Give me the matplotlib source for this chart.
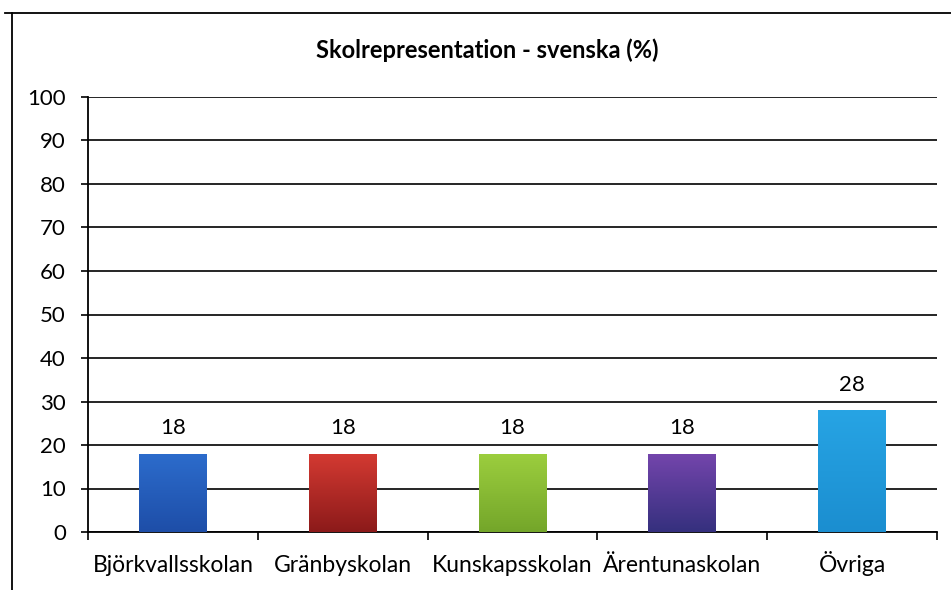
import matplotlib
matplotlib.use("Agg")
import matplotlib.pyplot as plt
import numpy as np
from matplotlib.lines import Line2D
from matplotlib.colors import LinearSegmentedColormap

categories = ["Björkvallsskolan", "Gränbyskolan", "Kunskapsskolan", "Ärentunaskolan", "Övriga"]
values = [18, 18, 18, 18, 28]
labels = ["18", "18", "18", "18", "28"]
top_colors = ["#2c6ccc", "#d43a32", "#9cce3e", "#7445ac", "#27a4e4"]
bottom_colors = ["#1e4ea8", "#8c1a1a", "#74a62a", "#35307e", "#1b8ed0"]
yticks = list(range(0, 101, 10))

plt.rcParams['font.family'] = ['Lato', 'DejaVu Sans']

fig = plt.figure(figsize=(9.51, 5.90), dpi=100)
ax = fig.add_axes([88/951, 1-532/590, (937-88)/951, (532-97)/590])

x = np.arange(len(categories))
bars = ax.bar(x, values, width=0.40, color='none', zorder=3)
for b, c1, c2 in zip(bars, top_colors, bottom_colors):
    cmap = LinearSegmentedColormap.from_list("g", [c2, c1])
    grad = np.linspace(0, 1, 100).reshape(-1, 1)
    x0, y0 = b.get_x(), b.get_y()
    w, h = b.get_width(), b.get_height()
    im = ax.imshow(grad, cmap=cmap, origin='lower', aspect='auto',
                   extent=[x0, x0 + w, y0, y0 + h], zorder=3)
    im.set_clip_path(b)

for xi, v, lab in zip(x, values, labels):
    ax.annotate(lab, (xi, v), xytext=(0, 11), textcoords='offset points',
                ha='center', va='bottom', fontsize=16)

ax.set_xlim(-0.5, len(categories) - 0.5)
ax.set_ylim(0, 100)
ax.set_yticks(yticks)
ax.set_yticklabels([str(t) for t in yticks], fontsize=16)
ax.set_xticks(x)
ax.set_xticklabels(categories, fontsize=16.5)
for lbl in ax.get_xticklabels():
    lbl.set_verticalalignment('baseline')
ax.tick_params(axis='x', which='major', length=0, pad=29)
ax.set_xticks(np.arange(-0.5, len(categories), 1), minor=True)
ax.tick_params(axis='x', which='minor', length=6, width=1.2, direction='out', color='black')
ax.tick_params(axis='y', length=5, width=1.2, direction='out', pad=11)
ax.grid(axis='y', color='black', linewidth=1.2, zorder=0)
ax.set_axisbelow(True)
for s in ['top', 'right']:
    ax.spines[s].set_visible(False)
for s in ['left', 'bottom']:
    ax.spines[s].set_linewidth(1.3)
    ax.spines[s].set_color('black')

fig.text(487/951, 1-50/590, "Skolrepresentation - svenska (%)", ha='center', va='center',
         fontsize=17, fontweight='bold')

fig.add_artist(Line2D([5/951, 1], [1-13/590, 1-13/590], color='black', linewidth=1.3))
fig.add_artist(Line2D([12/951, 12/951], [0, 1-13/590], color='black', linewidth=1.3))

fig.savefig("out.png", dpi=100)
